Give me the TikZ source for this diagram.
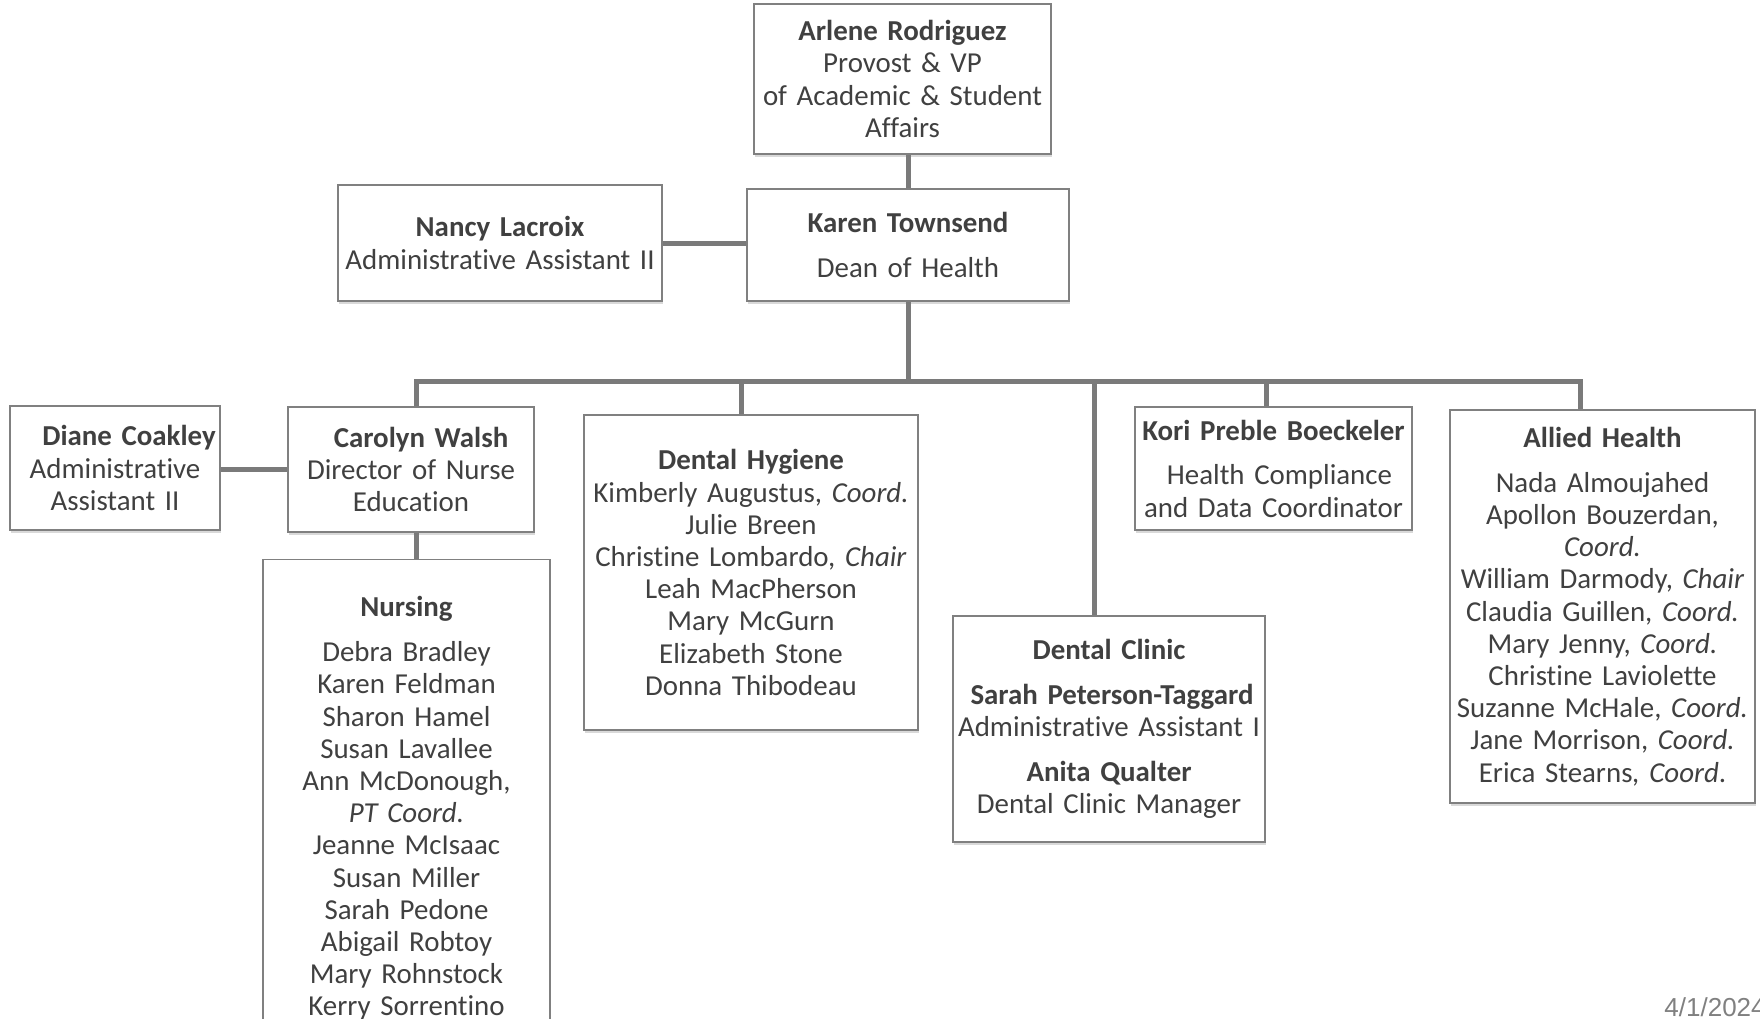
\documentclass[tikz,border=0pt]{standalone}
\usepackage{fontspec}
\setmainfont{Carlito}[Ligatures=NoCommon, RawFeature={-liga;-clig;-calt}]
\newfontfamily\datefont{Liberation Sans}
\usetikzlibrary{shadows}
\definecolor{txt}{RGB}{64,64,64}
\definecolor{edgegray}{RGB}{128,128,128}
\definecolor{conngray}{RGB}{122,122,122}
\definecolor{dategray}{RGB}{128,128,128}
\begin{document}
\begin{tikzpicture}[x=0.5pt,y=-0.5pt,
  box/.style={draw=edgegray, line width=0.7pt, fill=white, text=txt, align=center,
    inner xsep=1pt, inner ysep=0pt, font=\fontsize{14.45}{16.1}\selectfont,
    drop shadow={shadow xshift=0.7pt, shadow yshift=-1.3pt, opacity=0.3}},
  conn/.style={draw=conngray, line width=2.5pt}
]
\useasboundingbox (0,0) rectangle (1760,1018);

\node[box, minimum width=148.5pt, minimum height=75pt, text width=146pt] (arlene) at (902.5,79)
  {\textbf{Arlene Rodriguez}\\Provost \& VP\\of Academic\ \& Student\\Affairs};
\node[box, minimum width=161pt, minimum height=56pt, text width=158pt] (karen) at (908,245)
  {\textbf{Karen Townsend}\\[6.3pt]Dean of Health};
\node[box, minimum width=162pt, minimum height=58pt, text width=159pt] (nancy) at (500,243)
  {\textbf{Nancy Lacroix}\\Administrative Assistant II};
\node[box, minimum width=105pt, minimum height=62pt, text width=103pt] (diane) at (115,468)
  {\hspace*{14pt}\textbf{Diane Coakley}\\Administrative\\Assistant II};
\node[box, minimum width=123pt, minimum height=62.5pt, text width=121pt] (carolyn) at (411,469.5)
  {\hspace*{10pt}\textbf{Carolyn Walsh}\\Director of Nurse\\Education};
\node[box, anchor=north, minimum width=143.5pt, text width=141pt, inner ysep=18.5pt] (nursing) at (406.5,559)
  {\textbf{Nursing}\\[6.3pt]Debra Bradley\\Karen Feldman\\Sharon Hamel\\Susan Lavallee\\Ann McDonough,\\\textit{PT Coord.}\\Jeanne McIsaac\\Susan Miller\\Sarah Pedone\\Abigail Robtoy\\Mary Rohnstock\\Kerry Sorrentino};
\node[box, minimum width=167pt, minimum height=157.5pt, text width=165pt] (dh) at (751,572.5)
  {\textbf{Dental Hygiene}\\Kimberly Augustus, \textit{Coord.}\\Julie Breen\\Christine Lombardo, \textit{Chair}\\Leah MacPherson\\Mary McGurn\\Elizabeth Stone\\Donna Thibodeau};
\node[box, minimum width=156pt, minimum height=113pt, text width=154pt] (dc) at (1109,729)
  {\textbf{Dental Clinic}\\[6.3pt]\hspace*{3pt}\textbf{Sarah Peterson-Taggard}\\Administrative Assistant I\\[6.3pt]\textbf{Anita Qualter}\\Dental Clinic Manager};
\node[box, minimum width=138.5pt, minimum height=61.5pt, text width=136pt] (kori) at (1273.5,468.5)
  {\textbf{Kori Preble Boeckeler}\\[6.3pt]\hspace*{6pt}Health Compliance\\and Data Coordinator};
\node[box, minimum width=152.5pt, minimum height=196.5pt, text width=150pt] (allied) at (1602.5,606.5)
  {\textbf{Allied Health}\\[6.3pt]Nada Almoujahed\\Apollon Bouzerdan,\\\textit{Coord.}\\William Darmody, \textit{Chair}\\Claudia Guillen, \textit{Coord.}\\Mary Jenny, \textit{Coord.}\\Christine Laviolette\\Suzanne McHale, \textit{Coord.}\\Jane Morrison, \textit{Coord.}\\Erica Stearns\textit{, Coord}.};

\node[font=\datefont\fontsize{13}{15}\selectfont, text=dategray, anchor=base west, inner sep=0pt] (date) at (1664,1016) {4/1/2024};

% connectors
\coordinate (busL) at (416,381);
\coordinate (busR) at (1580,381);
\coordinate (dhx) at (741,381);
\coordinate (dcx) at (1094,381);
\coordinate (korix) at (1266,381);

\draw[conn] (karen.north) -- (arlene.south -| karen.north);
\draw[conn] (nancy.east) -- (nancy.east -| karen.west);
\draw[conn] (karen.south) -- (karen.south |- busL);
\draw[conn] (busL |- carolyn.north) -- (busL) -- (busR) -- (busR |- allied.north);
\draw[conn] (dhx) -- (dhx |- dh.north);
\draw[conn] (dcx) -- (dcx |- dc.north);
\draw[conn] (korix) -- (korix |- kori.north);
\draw[conn] (diane.east |- 0,469) -- (carolyn.west |- 0,469);
\draw[conn] (busL |- carolyn.south) -- (busL |- nursing.north);
\end{tikzpicture}
\end{document}
